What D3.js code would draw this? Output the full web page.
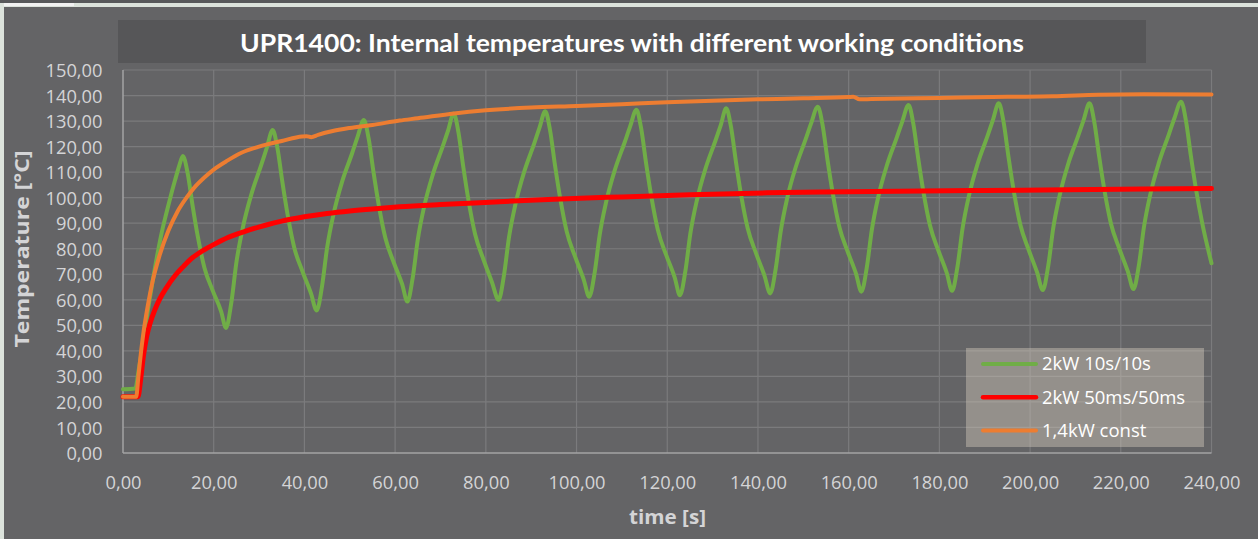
<!DOCTYPE html>
<html><head><meta charset="utf-8">
<script src="https://cdn.jsdelivr.net/npm/d3@7"></script>
<style>html,body{margin:0;padding:0;background:#646466;overflow:hidden}</style>
</head><body>
<svg id="c" width="1258" height="539"></svg>
<script>
// ---- data ----
const chartTitle = "UPR1400: Internal temperatures with different working conditions";
const xTitle = "time [s]";
const yTitle = "Temperature [°C]";
const xTicks = [0,20,40,60,80,100,120,140,160,180,200,220,240];
const yTicks = [0,10,20,30,40,50,60,70,80,90,100,110,120,130,140,150];
const seriesNames = ["2kW 10s/10s","2kW 50ms/50ms","1,4kW const"];

const green = [[0,25],[2.7,25.3],[3.5,33],[4.5,44],[5.5,56],[6.5,67],[7.5,77],[8.5,86],[9.5,93.5],[10.5,100.5],[11.5,107],[12.4,112.5],[13.2,116.3],
[14.25,109.6],[15.35,96.8],[16.5,84.7],[17.95,72.6],[19.8,63.5],[21.65,55.4],[22.7,49],
[23.9,59.1],[25.0,74.6],[26.45,88.5],[28.3,101.3],[30.5,112.9],[31.7,119.5],[33.0,126.5],
[34.05,119.4],[35.15,106.0],[36.3,93.3],[37.75,80.5],[39.6,71.0],[41.45,62.5],[42.7,55.8],
[43.9,65.5],[45.0,80.4],[46.45,93.8],[48.3,106.2],[50.5,117.3],[51.7,123.7],[53.1,130.4],
[54.15,123.3],[55.25,109.8],[56.4,97.0],[57.85,84.2],[59.7,74.6],[61.55,66.1],[62.7,59.3],
[63.9,68.9],[65.0,83.6],[66.45,96.9],[68.3,109.0],[70.5,120.1],[71.7,126.4],[72.9,133],
[73.95,125.7],[75.05,111.8],[76.2,98.7],[77.65,85.6],[79.5,75.7],[81.35,66.9],[82.8,60],
[84.0,69.6],[85.1,84.4],[86.55,97.6],[88.4,109.8],[90.6,120.9],[91.8,127.2],[93.1,133.8],
[94.15,126.5],[95.25,112.7],[96.4,99.7],[97.85,86.6],[99.7,76.8],[101.55,68.1],[102.8,61.2],
[104.0,70.7],[105.1,85.4],[106.55,98.5],[108.4,110.6],[110.6,121.6],[111.8,127.8],[113.2,134.4],
[114.25,127.1],[115.35,113.3],[116.5,100.3],[117.95,87.2],[119.8,77.4],[121.65,68.7],[122.8,61.8],
[124.0,71.3],[125.1,86.0],[126.55,99.1],[128.4,111.2],[130.6,122.2],[131.8,128.4],[133.0,135],
[134.05,127.8],[135.15,114.0],[136.3,100.9],[137.75,87.9],[139.6,78.1],[141.45,69.4],[142.7,62.5],
[143.9,72.0],[145.0,86.6],[146.45,99.8],[148.3,111.8],[150.5,122.8],[151.7,129.0],[153.2,135.6],
[154.25,128.4],[155.35,114.6],[156.5,101.6],[157.95,88.5],[159.8,78.8],[161.65,70.1],[162.8,63.2],
[164.0,72.7],[165.1,87.3],[166.55,100.5],[168.4,112.5],[170.6,123.5],[171.8,129.7],[173.2,136.3],
[174.25,129.0],[175.35,115.2],[176.5,102.1],[177.95,89.0],[179.8,79.2],[181.65,70.4],[182.8,63.5],
[184.0,73.1],[185.1,87.8],[186.55,101.0],[188.4,113.1],[190.6,124.1],[191.8,130.4],[193.1,137.0],
[194.15,129.7],[195.25,115.8],[196.4,102.6],[197.85,89.4],[199.7,79.5],[201.55,70.7],[202.8,63.8],
[204.0,73.3],[205.1,88.0],[206.55,101.1],[208.4,113.2],[210.6,124.2],[211.8,130.4],[213.1,137],
[214.15,129.7],[215.25,115.9],[216.4,102.8],[217.85,89.7],[219.7,79.9],[221.55,71.1],[222.8,64.2],
[224.0,73.7],[225.1,88.4],[226.55,101.6],[228.4,113.7],[230.6,124.8],[231.8,131.0],[233.3,137.6],
[234.35,130.3],[235.45,116.4],[236.6,103.1],[237.9,90.5],[240,74.3]];

const red = [[0,22],[3.3,22],[3.9,29],[4.5,38],[5.2,45.5],[6,51],[7,56],[8,60],[9.6,64.8],[11.5,69.5],[13.3,73],[15,76],[17,78.6],[20,81.6],[23,84.3],[26.9,86.8],[31.6,89.3],[35,90.8],[40,92.5],[45,93.8],[50,94.8],[55,95.6],[61,96.4],[70,97.3],[83,98.4],[95,99.4],[110,100.3],[125,101.1],[142,101.9],[160,102.3],[176,102.6],[190,102.8],[208,103.1],[225,103.4],[240,103.6]];

const orange = [[0,22],[2.9,22],[3.4,30],[4,40],[4.5,47],[5.5,58],[6.5,67],[8,77],[10,87],[12,94.5],[14,100],[16,104.5],[18,108],[20,111],[23,114.5],[26,117.5],[30,120],[35,122.2],[39.5,124],[40.5,124.1],[41.5,123.7],[43,124.6],[46,126],[50,127.3],[55,128.5],[61,130.2],[65,131.1],[73,133],[80,134.2],[90,135.3],[100,135.9],[110,136.6],[120,137.4],[130,138],[140,138.5],[150,138.9],[160,139.4],[161,139.5],[162.4,138.5],[165,138.6],[175,138.9],[185,139.2],[195,139.5],[205,139.7],[215,140.3],[225,140.5],[240,140.4]];

// ---- drawing ----
const svg = d3.select("#c");
const W = 1258, H = 539;
const loc = d3.formatLocale({decimal:",", thousands:".", grouping:[3], currency:["","€"]});
const fmt = loc.format(".2f");
const FONT = "'Open Sans', sans-serif";

// page frame
svg.append("rect").attr("x",0).attr("y",0).attr("width",W).attr("height",H).attr("fill","#646466");
svg.append("rect").attr("x",0).attr("y",0).attr("width",W).attr("height",3).attr("fill","#58595b");
svg.append("rect").attr("x",0).attr("y",3).attr("width",W).attr("height",4).attr("fill","#dce3dc");
svg.append("rect").attr("x",0).attr("y",3).attr("width",74).attr("height",3).attr("fill","#f2f2f2");
svg.append("rect").attr("x",0).attr("y",3).attr("width",4).attr("height",H).attr("fill","#dce3dc");

const x = d3.scaleLinear().domain([0,240]).range([123,1211.5]);
const y = d3.scaleLinear().domain([0,150]).range([453,70]);

// title box
svg.append("rect").attr("x",118).attr("y",20).attr("width",1028).attr("height",43).attr("fill","#565658");
svg.append("text").attr("x",632).attr("y",52).attr("text-anchor","middle")
  .attr("font-family","Lato, 'Open Sans', sans-serif").attr("font-weight","bold").attr("font-size",24)
  .attr("fill","#ffffff").attr("textLength",784).attr("lengthAdjust","spacingAndGlyphs").text(chartTitle);

// grid
const grid = svg.append("g");
grid.selectAll("line.h").data(yTicks.filter(d=>d>0)).join("line")
  .attr("x1",x(0)).attr("x2",x(240)).attr("y1",d=>y(d)).attr("y2",d=>y(d))
  .attr("stroke","#7b7b7d").attr("stroke-width",1.2);
grid.selectAll("line.v").data(xTicks.filter(d=>d>0)).join("line")
  .attr("y1",y(0)).attr("y2",y(150)).attr("x1",d=>x(d)).attr("x2",d=>x(d))
  .attr("stroke","#7b7b7d").attr("stroke-width",1.2);

// axes lines
svg.append("line").attr("x1",x(0)).attr("x2",x(0)).attr("y1",y(0)).attr("y2",y(150)).attr("stroke","#a3a3a5").attr("stroke-width",1.5);
svg.append("line").attr("x1",x(0)).attr("x2",x(240)).attr("y1",y(0)).attr("y2",y(0)).attr("stroke","#a3a3a5").attr("stroke-width",1.5);

// tick labels via axes
const yAxis = d3.axisLeft(y).tickValues(yTicks).tickFormat(fmt).tickSize(0).tickPadding(0);
const ya = svg.append("g").attr("transform",`translate(102.5,0)`).call(yAxis);
ya.select(".domain").remove();
ya.selectAll("text").attr("font-family",FONT).attr("font-size",18.3).attr("fill","#d4d4d6").attr("dy","0.36em");

const xAxis = d3.axisBottom(x).tickValues(xTicks).tickFormat(fmt).tickSize(0).tickPadding(0);
const xa = svg.append("g").attr("transform",`translate(0,488.5)`).call(xAxis);
xa.select(".domain").remove();
xa.selectAll("text").attr("font-family",FONT).attr("font-size",18.3).attr("fill","#d4d4d6").attr("dy","0");

// axis titles
svg.append("text").attr("x",667.5).attr("y",524).attr("text-anchor","middle")
  .attr("font-family",FONT).attr("font-weight","bold").attr("font-size",20)
  .attr("textLength",77).attr("lengthAdjust","spacingAndGlyphs")
  .attr("fill","#d4d4d6").text(xTitle);
svg.append("text").attr("transform","translate(29,249) rotate(-90)").attr("text-anchor","middle")
  .attr("font-family",FONT).attr("font-weight","bold").attr("font-size",20)
  .attr("textLength",197).attr("lengthAdjust","spacingAndGlyphs")
  .attr("fill","#d4d4d6").text(yTitle);

// lines
const line = d3.line().x(d=>x(d[0])).y(d=>y(d[1])).curve(d3.curveMonotoneX);
const series = [
  {data:green, color:"#70ad47", w:4},
  {data:red, color:"#ff0000", w:5},
  {data:orange, color:"#ed7d31", w:4}
];
svg.append("g").selectAll("path").data(series).join("path")
  .attr("d",d=>line(d.data)).attr("fill","none").attr("stroke",d=>d.color)
  .attr("stroke-width",d=>d.w).attr("stroke-linejoin","round").attr("stroke-linecap","round");

// legend
const lg = svg.append("g");
lg.append("rect").attr("x",966).attr("y",348).attr("width",238).attr("height",99)
  .attr("fill","#d6cdbf").attr("fill-opacity",0.42);
const items = lg.selectAll("g.it").data(series).join("g").attr("transform",(d,i)=>`translate(0,${364+i*33.3})`);
items.append("line").attr("x1",983).attr("x2",1036).attr("y1",0).attr("y2",0)
  .attr("stroke",d=>d.color).attr("stroke-width",(d,i)=>i===1?4.5:4).attr("stroke-linecap","round");
items.append("text").attr("x",1042).attr("y",0).attr("dy","0.35em")
  .attr("font-family",FONT).attr("font-size",18.5).attr("fill","#ffffff")
  .text((d,i)=>seriesNames[i]);
</script>
</body></html>
